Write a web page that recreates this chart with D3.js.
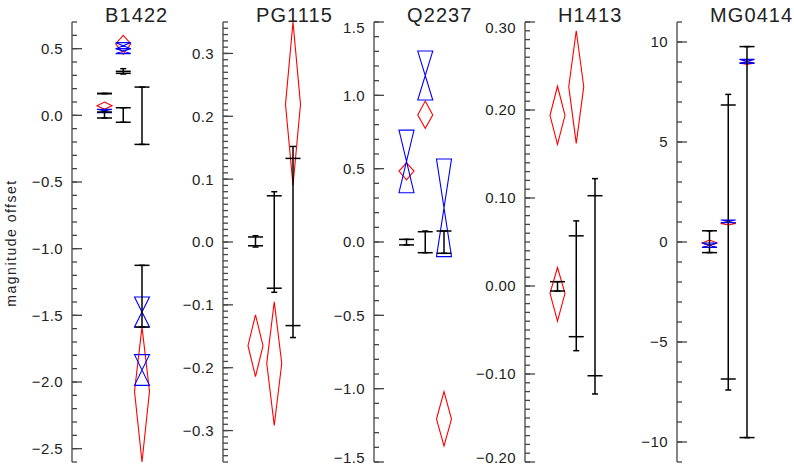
<!DOCTYPE html>
<html><head><meta charset="utf-8">
<script src="https://cdn.jsdelivr.net/npm/d3@7"></script>
<style>body{margin:0;background:#fff}svg{display:block}text{font-family:"Liberation Sans",Arial,sans-serif}</style>
</head><body><svg id="c" width="794" height="465"></svg>
<script>
// ---- data ----
const panelNames = ["B1422", "PG1115", "Q2237", "H1413", "MG0414"];
const yDomains = [[-2.6, 0.7], [-0.35, 0.35], [-1.5, 1.5], [-0.2, 0.3], [-11, 11]];
const majorTicks = [
  [-2.5, -2.0, -1.5, -1.0, -0.5, 0.0, 0.5],
  [-0.3, -0.2, -0.1, 0.0, 0.1, 0.2, 0.3],
  [-1.5, -1.0, -0.5, 0.0, 0.5, 1.0, 1.5],
  [-0.20, -0.10, 0.00, 0.10, 0.20, 0.30],
  [-10, -5, 0, 5, 10]
];
const tickLabels = [
  ["−2.5", "−2.0", "−1.5", "−1.0", "−0.5", "0.0", "0.5"],
  ["−0.3", "−0.2", "−0.1", "0.0", "0.1", "0.2", "0.3"],
  ["−1.5", "−1.0", "−0.5", "0.0", "0.5", "1.0", "1.5"],
  ["−0.20", "−0.10", "0.00", "0.10", "0.20", "0.30"],
  ["−10", "−5", "0", "5", "10"]
];
const minorSteps = [0.1, 0.01, 0.1, 0.01, 1];
// error bars: [column, outerLo, innerLo, innerHi, outerHi]
const bars = [
  [[1, 0.162, 0.162, 0.165, 0.165], [1, -0.02, -0.02, 0.025, 0.025], [2, 0.31, 0.315, 0.33, 0.35],
   [2, -0.052, -0.052, 0.057, 0.057], [3, -0.218, -0.218, 0.212, 0.212], [3, -1.588, -1.588, -1.125, -1.125]],
  [[1, -0.008, -0.006, 0.008, 0.01], [2, -0.08, -0.0735, 0.0735, 0.08], [3, -0.152, -0.133, 0.133, 0.152]],
  [[1, -0.02, -0.02, 0.018, 0.018], [2, -0.073, -0.073, 0.07, 0.075], [3, -0.077, -0.077, 0.075, 0.075]],
  [[1, -0.0057, -0.0057, 0.0049, 0.0049], [2, -0.0735, -0.0576, 0.057, 0.074], [3, -0.1227, -0.102, 0.1026, 0.122]],
  [[1, -0.53, -0.53, 0.56, 0.56], [2, -7.4, -6.85, 6.85, 7.38], [3, -9.78, -9.78, 9.77, 9.77]]
];
// red diamonds: [column, lo, mid, hi]
const diamonds = [
  [[1, 0.045, 0.072, 0.10], [2, 0.457, 0.537, 0.60], [3, -2.6, -2.07, -1.588]],
  [[1, -0.214, -0.165, -0.116], [2, -0.292, -0.193, -0.095], [3, 0.09, 0.219, 0.35]],
  [[1, 0.423, 0.484, 0.54], [2, 0.775, 0.866, 0.961], [3, -1.39, -1.207, -1.02]],
  [[1, -0.04, -0.0083, 0.021], [1, 0.161, 0.194, 0.227], [2, 0.162, 0.2265, 0.29]],
  [[1, -0.2, -0.05, 0.1], [2, 0.85, 0.93, 1.02], [3, 8.88, 8.95, 9.02]]
];
// blue bowties: [column, lo, hi]
const bowties = [
  [[1, 0.02, 0.045], [2, 0.50, 0.545], [2, 0.463, 0.50], [3, -1.588, -1.363], [3, -2.025, -1.795]],
  [],
  [[1, 0.336, 0.763], [2, 0.968, 1.302], [3, -0.1, 0.566]],
  [],
  [[1, -0.27, -0.05], [2, 0.97, 1.1], [3, 8.93, 9.13]]
];
const yTitle = "magnitude offset";

// ---- layout ----
const svg = d3.select("#c");
const axisX = [72, 223, 374, 525, 677];
const yTop = 22, yBot = 462;
const wCap = 7.5, nCap = 3, dW = 7.5, bW = 7.5;

panelNames.forEach((name, i) => {
  const ax = axisX[i];
  const y = d3.scaleLinear().domain(yDomains[i]).range([yBot, yTop]);
  const x = d3.scaleLinear().domain([1, 3]).range([ax + 32.5, ax + 70]);
  const g = svg.append("g");

  g.append("line").attr("x1", ax).attr("x2", ax).attr("y1", yTop).attr("y2", yBot)
    .attr("stroke", "#444").attr("stroke-width", 1.3);
  const [d0, d1] = yDomains[i];
  const st = minorSteps[i];
  const n0 = Math.ceil(d0 / st - 1e-6), n1 = Math.floor(d1 / st + 1e-6);
  const minors = d3.range(n0, n1 + 1).map(k => +(k * st).toFixed(6));
  g.selectAll(".mn").data(minors).join("line")
    .attr("x1", ax).attr("x2", ax + 5).attr("y1", d => y(d)).attr("y2", d => y(d))
    .attr("stroke", "#444").attr("stroke-width", 1.3);
  g.selectAll(".mj").data(majorTicks[i]).join("line")
    .attr("x1", ax).attr("x2", ax + 10).attr("y1", d => y(d)).attr("y2", d => y(d))
    .attr("stroke", "#444").attr("stroke-width", 1.3);
  g.selectAll(".tl").data(majorTicks[i]).join("text")
    .attr("x", ax - 9)
    .attr("y", d => Math.min(Math.max(y(d), yTop + 5.5), yBot - 4.5))
    .attr("dy", "0.36em").attr("text-anchor", "end")
    .attr("font-size", 15).attr("letter-spacing", 0.4).attr("fill", "#222")
    .text((d, k) => tickLabels[i][k]);

  g.append("text").attr("x", ax + 33).attr("y", 21.5).attr("font-size", 20)
    .attr("letter-spacing", 1.1).attr("fill", "#222").text(name);

  g.selectAll(".dm").data(diamonds[i]).join("path")
    .attr("d", d => `M${x(d[0])},${y(d[3])}L${x(d[0]) + dW},${y(d[2])}L${x(d[0])},${y(d[1])}L${x(d[0]) - dW},${y(d[2])}Z`)
    .attr("fill", "none").attr("stroke", "#ff0000").attr("stroke-width", 1.1);
  g.selectAll(".bt").data(bowties[i]).join("path")
    .attr("d", d => `M${x(d[0]) - bW},${y(d[2])}L${x(d[0]) + bW},${y(d[2])}L${x(d[0]) - bW},${y(d[1])}L${x(d[0]) + bW},${y(d[1])}Z`)
    .attr("fill", "none").attr("stroke", "#0000ff").attr("stroke-width", 1.1);
  const bg = g.selectAll(".eb").data(bars[i]).join("g");
  bg.append("line").attr("x1", d => x(d[0])).attr("x2", d => x(d[0]))
    .attr("y1", d => y(d[1])).attr("y2", d => y(d[4]))
    .attr("stroke", "#000").attr("stroke-width", 1.5);
  [2, 3].forEach(k => bg.append("line")
    .attr("x1", d => x(d[0]) - wCap).attr("x2", d => x(d[0]) + wCap)
    .attr("y1", d => y(d[k])).attr("y2", d => y(d[k]))
    .attr("stroke", "#000").attr("stroke-width", 1.5));
  [1, 4].forEach(k => bg.append("line")
    .attr("x1", d => x(d[0]) - nCap).attr("x2", d => x(d[0]) + nCap)
    .attr("y1", d => y(d[k])).attr("y2", d => y(d[k]))
    .attr("stroke", "#000").attr("stroke-width", 1.5));
});

svg.append("text").attr("transform", "translate(16,243) rotate(-90)")
  .attr("text-anchor", "middle").attr("font-size", 14).attr("letter-spacing", 1.5)
  .attr("fill", "#222").text(yTitle);
</script></body></html>
